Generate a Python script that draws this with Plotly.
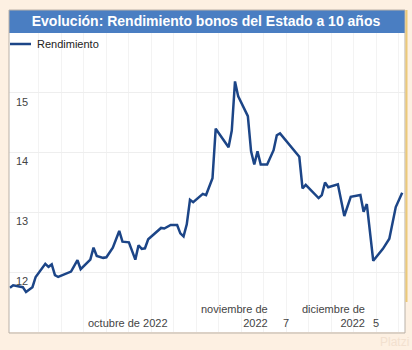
import plotly.graph_objects as go

# ---- data ----
dates = ["2022-08-13","2022-08-14","2022-08-17","2022-08-18","2022-08-20","2022-08-21","2022-08-24","2022-08-25","2022-08-26","2022-08-27","2022-08-28",
         "2022-09-01","2022-09-03","2022-09-04","2022-09-07","2022-09-08","2022-09-09","2022-09-11","2022-09-12","2022-09-14","2022-09-16","2022-09-17","2022-09-19","2022-09-21","2022-09-22","2022-09-23","2022-09-24","2022-09-25","2022-09-29","2022-09-30",
         "2022-10-02","2022-10-04","2022-10-05","2022-10-06","2022-10-07","2022-10-08","2022-10-09","2022-10-12","2022-10-13","2022-10-15","2022-10-16","2022-10-20","2022-10-21","2022-10-22","2022-10-23","2022-10-26","2022-10-27","2022-10-28","2022-10-29","2022-10-30",
         "2022-11-01","2022-11-03","2022-11-04","2022-11-05","2022-11-11","2022-11-12","2022-11-13","2022-11-17","2022-11-18","2022-11-19","2022-11-20","2022-11-23","2022-11-25","2022-11-27","2022-11-30",
         "2022-12-01","2022-12-02","2022-12-04","2022-12-07","2022-12-09","2022-12-11","2022-12-13"]
rendimiento = [11.74,11.78,11.75,11.67,11.75,11.92,12.14,12.09,12.13,11.95,
               11.92,12.01,12.20,12.05,12.21,12.41,12.27,12.24,12.25,12.41,
               12.69,12.51,12.50,12.21,12.45,12.39,12.40,12.55,12.74,12.73,
               12.79,12.79,12.65,12.60,12.80,13.21,13.17,13.31,13.29,13.57,
               14.40,14.09,14.37,15.19,14.94,14.61,14.02,13.80,14.02,13.80,
               13.80,14.04,14.29,14.32,13.93,13.40,13.46,13.24,13.29,13.50,
               13.42,13.47,12.94,13.26,13.29,13.01,13.14,12.19,12.39,12.56,
               13.09,13.33]

y_ticks = [12, 13, 14, 15]
x_label_dates = ["2022-10-01", "2022-11-01", "2022-11-07", "2022-12-01", "2022-12-05"]
x_label_texts = ["octubre de 2022", "noviembre de<br>2022", "7", "diciembre de<br>2022", "5"]
x_label_anchor = ["right", "right", "center", "right", "center"]

title_text = "Evolución: Rendimiento bonos del Estado a 10 años"
series_name = "Rendimiento"
line_color = "#1c4587"

# ---- figure ----
W, H = 412, 350
mt, mb, ml, mr = 33, 18, 9, 7
ph = H - mt - mb
pw = W - ml - mr

fig = go.Figure()
fig.add_trace(go.Scatter(x=dates, y=rendimiento, mode="lines", name=series_name,
                         line=dict(color=line_color, width=2.5), showlegend=False))

font_fam = "Liberation Sans, Arial, sans-serif"

fig.update_layout(
    width=W, height=H,
    margin=dict(l=ml, r=mr, t=mt, b=mb, pad=0),
    paper_bgcolor="#fdf0e2",
    plot_bgcolor="#ffffff",
    font=dict(family=font_fam, size=11, color="#444444"),
    showlegend=False,
    title=dict(text="<b>" + title_text + "</b>", x=0.5, xanchor="center",
               y=1 - 21.5 / H, yanchor="middle", yref="container",
               font=dict(family=font_fam, size=14, color="#ffffff")),
    xaxis=dict(type="date", range=["2022-08-12 17:00", "2022-12-13 21:00"],
               showticklabels=False, ticks="", showgrid=True,
               gridcolor="#f3f3f3", gridwidth=1,
               tick0="2022-08-15", dtick=7 * 24 * 3600 * 1000,
               zeroline=False, showline=False),
    yaxis=dict(range=[11, 16], tickvals=y_ticks, ticks="",
               ticklabelposition="inside", ticklabelshift=9, ticklabelstandoff=4,
               tickfont=dict(size=11, color="#444444"),
               showgrid=True, gridcolor="#eeeeee", gridwidth=1,
               zeroline=False, showline=False),
    shapes=[
        # title bar
        dict(type="rect", xref="paper", yref="paper", x0=0, x1=1,
             y0=1, y1=1 + 23 / ph, fillcolor="#4a7ec2", line=dict(width=0), layer="below"),
        # panel border
        dict(type="rect", xref="paper", yref="paper", x0=0, x1=1,
             y0=-1 / ph, y1=1 + 23 / ph, fillcolor="rgba(0,0,0,0)",
             line=dict(color="#b9b1a8", width=1)),
        # golden right edge
        dict(type="line", xref="paper", yref="paper", x0=1 + 1.5 / pw, x1=1 + 1.5 / pw,
             y0=0.1, y1=1 + 23 / ph, line=dict(color="#ecc978", width=2)),
        # legend sample line
        dict(type="line", xref="paper", yref="paper", x0=1 / pw, x1=22 / pw,
             y0=1 - 11 / ph, y1=1 - 11 / ph, line=dict(color=line_color, width=2.5)),
    ],
)

anns = []
for d, t, a in zip(x_label_dates, x_label_texts, x_label_anchor):
    anns.append(dict(x=d, y=0, xref="x", yref="paper", text=t, showarrow=False,
                     xanchor=a, yanchor="bottom", align="right",
                     xshift=3 if a == "right" else 0, yshift=1,
                     font=dict(size=11, color="#444444")))
# legend text
anns.append(dict(x=26 / pw, y=1 - 11 / ph, xref="paper", yref="paper", text=series_name,
                 showarrow=False, xanchor="left", yanchor="middle",
                 font=dict(size=11, color="#222222")))
# watermark
anns.append(dict(x=1.0, y=0, xref="paper", yref="paper", text="Platzi", showarrow=False,
                 xanchor="right", yanchor="top", yshift=-2, xshift=5, borderpad=0,
                 font=dict(size=12, color="#f2e0cf")))
fig.update_layout(annotations=anns)

fig.write_html("out.html")
